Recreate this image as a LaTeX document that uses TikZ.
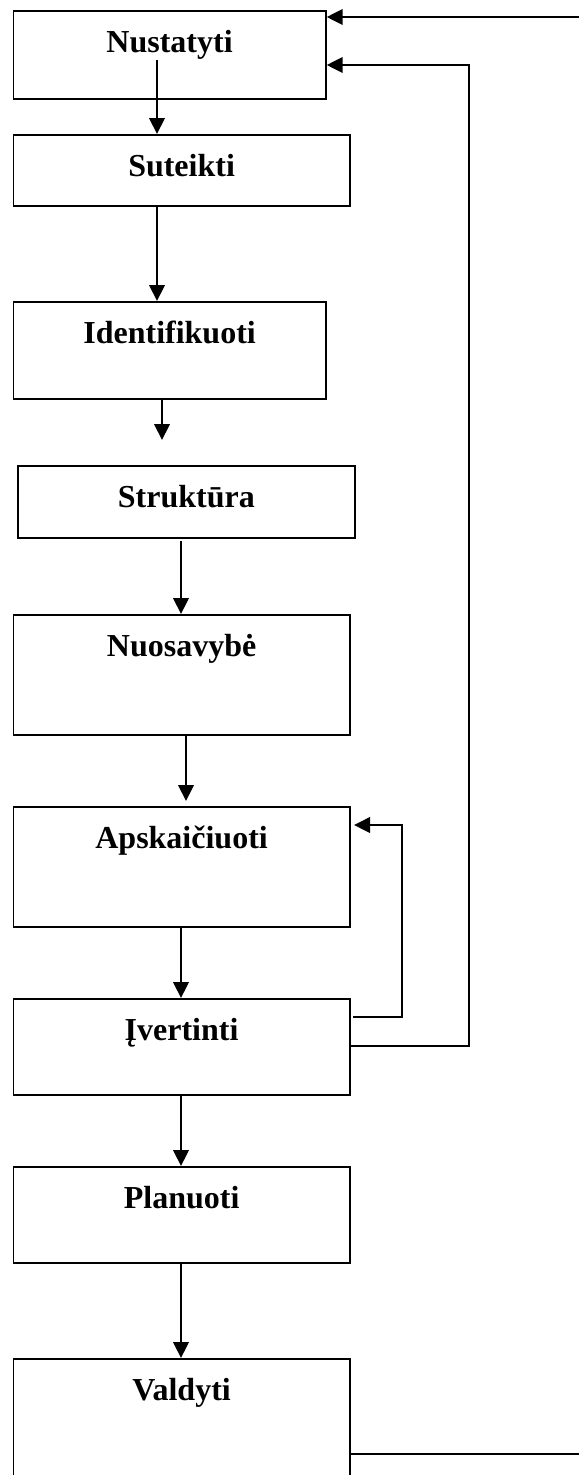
\documentclass[tikz,border=0pt]{standalone}
\usepackage{fontspec}
\setmainfont{Liberation Serif}
\usetikzlibrary{arrows.meta}

\tikzset{
  stepbox/.style={draw, line width=1.7pt, anchor=north west, inner sep=0pt,
    text height=42pt, align=center,
    font=\fontsize{32}{38}\selectfont\bfseries},
  wire/.style={line width=2.1pt},
  arr/.style={wire, -{Triangle[length=16pt, width=15.5pt]}}
}

\begin{document}
\begin{tikzpicture}[x=1pt, y=-1pt]
  \clip (0,0) rectangle (579,1475);
  \fill[white] (0,0) rectangle (579,1475);

  % process steps, top to bottom
  \node[stepbox, minimum width=312.5pt, text depth=46pt]  (nus) at (12.5,10)  {Nustatyti};
  \node[stepbox, minimum width=336.5pt, text depth=29pt]  (sut) at (12.5,134) {Suteikti};
  \node[stepbox, minimum width=312.5pt, text depth=55pt]  (ide) at (12.5,301) {Identifikuoti};
  \node[stepbox, minimum width=337pt,   text depth=30pt]  (str) at (17,465)   {Struktūra};
  \node[stepbox, minimum width=336.5pt, text depth=78pt]  (nuo) at (12.5,614) {Nuosavybė};
  \node[stepbox, minimum width=336.5pt, text depth=78pt]  (aps) at (12.5,806) {Apskaičiuoti};
  \node[stepbox, minimum width=336.5pt, text depth=54pt]  (ive) at (12.5,998) {Įvertinti};
  \node[stepbox, minimum width=336.5pt, text depth=54pt]  (pla) at (12.5,1166) {Planuoti};
  \node[stepbox, minimum width=336.5pt, text depth=120pt] (val) at (12.5,1358) {Valdyti};

  % loose ends of the connectors
  \coordinate (nusIn)   at (157,60);
  \coordinate (ideTip)  at (162,440);
  \coordinate (strOut)  at (181,541);
  \coordinate (apsTip)  at (186,801);
  \coordinate (loopOut) at (353,1017);
  \coordinate (loopTip) at (354,825);
  \coordinate (topIn)   at (579,17);
  \coordinate (botOut)  at (579,1454);

  % main flow
  \draw[arr] (nusIn) -- (nusIn |- sut.north);
  \draw[arr] (sut.south -| nusIn) -- (ide.north -| nusIn);
  \draw[arr] (ide.south -| ideTip) -- (ideTip);
  \draw[arr] (strOut) -- (strOut |- nuo.north);
  \draw[arr] (nuo.south -| apsTip) -- (apsTip);
  \draw[arr] (aps.south -| strOut) -- (ive.north -| strOut);
  \draw[arr] (ive.south -| strOut) -- (pla.north -| strOut);
  \draw[arr] (pla.south -| strOut) -- (val.north -| strOut);

  % feedback loops
  \draw[arr] (loopOut) -- (402,1017) -- (402,825) -- (loopTip);
  \draw[arr] (ive.east |- 0,1046) -- (469,1046) -- (469,65) -- (nus.east |- 0,65);
  \draw[arr] (topIn) -- (nus.east |- topIn);
  \draw[wire] (val.east |- botOut) -- (botOut);
\end{tikzpicture}
\end{document}
